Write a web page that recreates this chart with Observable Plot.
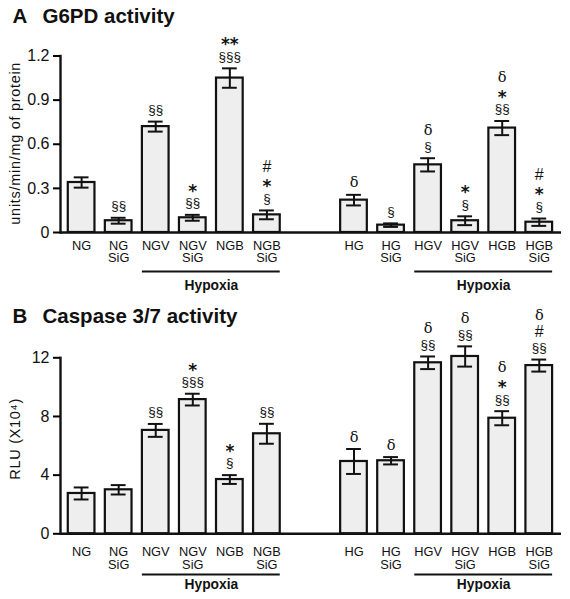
<!DOCTYPE html>
<html>
<head>
<meta charset="utf-8">
<script src="https://cdn.jsdelivr.net/npm/d3@7"></script>
<script src="https://cdn.jsdelivr.net/npm/@observablehq/plot@0.6"></script>
<style>
  html, body { margin: 0; padding: 0; background: #fff; }
  #chart svg { display: block; }
</style>
</head>
<body>
<div id="chart"></div>
<script>
// ---- data ----
const categories = ["NG", "NG SiG", "NGV", "NGV SiG", "NGB", "NGB SiG",
                    "HG", "HG SiG", "HGV", "HGV SiG", "HGB", "HGB SiG"];
const groupOf = ["N", "N", "N", "N", "N", "N", "H", "H", "H", "H", "H", "H"];

const g6pdMean = [0.34, 0.08, 0.72, 0.10, 1.05, 0.12, 0.22, 0.05, 0.46, 0.08, 0.71, 0.07];
const g6pdErr  = [0.035, 0.02, 0.034, 0.02, 0.066, 0.03, 0.036, 0.012, 0.045, 0.03, 0.048, 0.025];
const g6pdSig  = ["", "§§", "§§", "*|§§", "**|§§§", "#|*|§", "δ", "§", "δ|§", "*|§", "δ|*|§§", "#|*|§"];

const caspMean = [2.75, 3.0, 7.05, 9.15, 3.7, 6.82, 4.93, 4.98, 11.66, 12.09, 7.88, 11.47];
const caspErr  = [0.41, 0.32, 0.44, 0.4, 0.3, 0.68, 0.85, 0.25, 0.43, 0.69, 0.48, 0.41];
const caspSig  = ["", "", "§§", "*|§§§", "*|§", "§§", "δ", "δ", "δ|§§", "δ|§§", "δ|*|§§", "δ|#|§§"];

const g6pdTicks = [0, 0.3, 0.6, 0.9, 1.2];
const caspTicks = [0, 4, 8, 12];

const hypoxiaSpans = [["NGV", "NGB SiG"], ["HGV", "HGB SiG"]];

// ---- layout helpers ----
const GROUP_GAP = 1.35;
const HALF = 0.36;   // half bar width (x units)
const CAP = 0.2;     // half error-cap width
const pos = (i) => i + (groupOf[i] === "H" ? GROUP_GAP : 0);
const posOf = (c) => pos(categories.indexOf(c));

const SANS = "'Liberation Sans', Arial, Helvetica, sans-serif";
const SERIF = "'DejaVu Serif', 'Liberation Serif', serif";

const SYMBOLS = {
  "*": {font: "'DejaVu Sans', sans-serif", size: 17, weight: "bold", adj: 4.5},
  "δ": {font: SERIF, size: 14.5, weight: "normal", adj: 0},
  "#": {font: SANS, size: 16, weight: "normal", adj: 0},
  "§": {font: SANS, size: 13.5, weight: "normal", adj: 0}
};
const ROW0 = 12, ROWSTEP = 16;

// style each significance stack: one <text> per bar, one line per symbol row
function styleStacks(svg) {
  d3.select(svg).selectAll("text").each(function () {
    const tspans = Array.from(this.querySelectorAll("tspan"));
    const parts = tspans.length ? tspans : [this];
    if (!parts.every(el => SYMBOLS[el.textContent[0]])) return;
    const n = parts.length;
    let prev = 0;
    this.removeAttribute("y");
    this.removeAttribute("dy");
    parts.forEach((el, i) => {
      const st = SYMBOLS[el.textContent[0]];
      const k = n - 1 - i;
      const base = -(ROW0 + ROWSTEP * k) + st.adj + 0.32 * st.size;
      if (el !== this) { el.removeAttribute("y"); el.setAttribute("x", 0); }
      el.setAttribute("dy", `${base - prev}px`);
      el.setAttribute("font-family", st.font);
      el.setAttribute("font-size", st.size);
      el.setAttribute("font-weight", st.weight);
      prev = base;
    });
  });
}

function panel({letter, title, yLabel, yLabelDy, means, errs, sigs, ticks, tickFmt, yMax, height, marginTop, marginBottom, labelDy, hypDy, hypTextDy}) {
  const bars = categories.map((c, i) => ({
    cat: c, label: c.replace(" ", "\n"), x: pos(i), v: means[i], lo: means[i] - errs[i], hi: means[i] + errs[i],
    sig: sigs[i].split("|").join("\n")
  }));
  const annotated = bars.filter(b => b.sig);
  const spans = hypoxiaSpans.map(([a, b]) => ({x1: posOf(a) - HALF, x2: posOf(b) + HALF, mid: (posOf(a) + posOf(b)) / 2}));

  const marks = [
    Plot.rectY(bars, {x1: d => d.x - HALF, x2: d => d.x + HALF, y: "v", fill: "#eeeeee", stroke: "#111", strokeWidth: 2.2}),
    Plot.ruleX(bars, {x: "x", y1: "lo", y2: "hi", stroke: "#111", strokeWidth: 2}),
    Plot.ruleY(bars, {y: "hi", x1: d => d.x - CAP, x2: d => d.x + CAP, stroke: "#111", strokeWidth: 2}),
    Plot.ruleY(bars, {y: "lo", x1: d => d.x - CAP, x2: d => d.x + CAP, stroke: "#111", strokeWidth: 2}),
    Plot.ruleY([0], {stroke: "#111", strokeWidth: 2.4}),
    Plot.frame({anchor: "left", stroke: "#111", strokeWidth: 2.4}),
    Plot.axisY({ticks, tickFormat: tickFmt, tickSize: 7, tickPadding: 4, fontSize: 16, strokeWidth: 2, label: null,
                fontFamily: SANS, fill: "#111"}),
    Plot.text(bars, {x: "x", y: 0, text: "label", lineAnchor: "top", dy: labelDy, fontSize: 12.8, lineHeight: 0.97,
                     fontFamily: SANS, fill: "#111"}),
    Plot.text(annotated, {x: "x", y: "hi", text: "sig", lineAnchor: "top", fontSize: 13.5, fontFamily: SANS, fill: "#111"}),
    Plot.ruleY(spans, {y: 0, x1: "x1", x2: "x2", dy: hypDy, stroke: "#111", strokeWidth: 2}),
    Plot.text(spans, {x: "mid", y: 0, text: () => "Hypoxia", dy: hypTextDy, lineAnchor: "bottom", fontSize: 13.8,
                      fontWeight: "bold", fontFamily: SANS, fill: "#111"}),
    Plot.text([letter], {frameAnchor: "top-left", dx: -48, dy: -(marginTop - 22.5), lineAnchor: "bottom", textAnchor: "start",
                         fontSize: 20.5, fontWeight: "bold", fontFamily: SANS, fill: "#111"}),
    Plot.text([title], {frameAnchor: "top-left", dx: -18, dy: -(marginTop - 22.5), lineAnchor: "bottom", textAnchor: "start",
                        fontSize: 20.5, fontWeight: "bold", fontFamily: SANS, fill: "#111"}),
    Plot.text([yLabel], {frameAnchor: "left", textAnchor: "middle", lineAnchor: "middle", dx: -45.5, dy: yLabelDy, rotate: -90,
                         fontSize: 14.5, fontFamily: SANS, fill: "#111"})
  ];

  const svg = Plot.plot({
    width: 570, height, marginLeft: 60, marginRight: 9, marginTop, marginBottom,
    style: {fontFamily: SANS, background: "#fff", overflow: "visible"},
    x: {domain: [-0.57, 12.95], axis: null},
    y: {domain: [0, yMax], axis: null},
    marks
  });
  styleStacks(svg);
  // widen the rotated axis title slightly (letter spacing) to match the reference
  d3.select(svg).selectAll("text").filter(function () { return this.textContent === yLabel; })
    .attr("letter-spacing", "0.7px");
  return svg;
}

const chart = document.getElementById("chart");
chart.append(panel({
  letter: "A", title: "G6PD activity", yLabel: "units/min/mg of protein", yLabelDy: -1,
  means: g6pdMean, errs: g6pdErr, sigs: g6pdSig, ticks: g6pdTicks,
  tickFmt: d => d === 0 ? "0" : d3.format(".1f")(d), yMax: 1.2,
  height: 300, marginTop: 55.5, marginBottom: 68, labelDy: 8.5, hypDy: 39, hypTextDy: 57
}));
chart.append(panel({
  letter: "B", title: "Caspase 3/7 activity", yLabel: "RLU (X10⁴)", yLabelDy: -7,
  means: caspMean, errs: caspErr, sigs: caspSig, ticks: caspTicks,
  tickFmt: d => String(d), yMax: 12,
  height: 299, marginTop: 57.3, marginBottom: 65.7, labelDy: 13.5, hypDy: 40.7, hypTextDy: 55
}));
</script>
</body>
</html>
